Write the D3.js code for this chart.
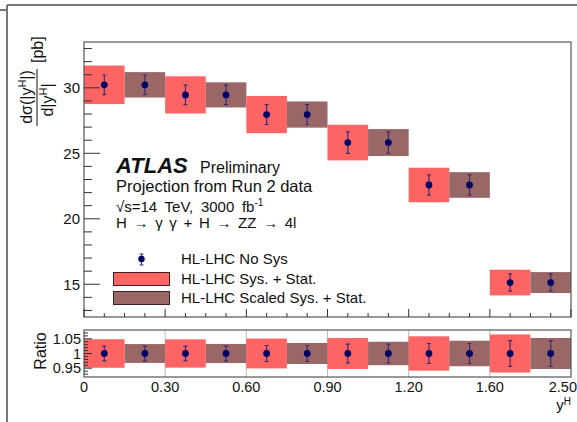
<!DOCTYPE html>
<html lang="en">
<head>
    <meta charset="UTF-8">
    <title>ATLAS |yH| projection</title>
    <script src="https://d3js.org/d3.v7.min.js"></script>
    <style>
        body { margin: 0; background: #fff; }
        svg { display: block; font-family: "Liberation Sans", Arial, Helvetica, sans-serif; }
    </style>
</head>
<body>
<div id="container"></div>
<script>
    // data
    const binLabels = ['0', '0.30', '0.60', '0.90', '1.20', '1.60', '2.50'];
    const xsec = [30.23, 29.46, 27.96, 25.82, 22.58, 15.13];
    const statErr = [0.75, 0.74, 0.76, 0.82, 0.77, 0.66];
    const sysErr = [1.47, 1.42, 1.42, 1.36, 1.32, 0.98];
    const scaledSysErr = [0.97, 0.96, 1.0, 1.03, 0.98, 0.8];
    const yTicks = [15, 20, 25, 30];
    const ratioTicks = [0.95, 1, 1.05];
    const ratioLabels = ['0.95', '1', '1.05'];
    const legendLabels = ['HL-LHC No Sys', 'HL-LHC Sys. + Stat.', 'HL-LHC Scaled Sys. + Stat.'];

    const W = 577, H = 422;
    const left = 84, right = 571;
    const red = '#ff6464', brown = '#9a6767', navy = '#000066', errCol = '#3a2e6e';

    const svg = d3.select('#container').append('svg')
        .attr('width', W).attr('height', H);

    // outer canvas edges
    svg.append('path')
        .attr('d', 'M7,5 H577 M7,5 V422 M0,10 H7')
        .attr('stroke', '#777').attr('stroke-width', 2).attr('fill', 'none');

    const x = d3.scaleLinear().domain([0, binLabels.length - 1]).range([left, right]);
    const y = d3.scaleLinear().domain([12.5, 33.5]).range([317, 42]);
    const yr = d3.scaleLinear().domain([0.92, 1.08]).range([377, 330]);

    const bins = xsec.map((v, i) => ({i: i, v: v, stat: statErr[i], sys: sysErr[i], ssys: scaledSysErr[i]}));

    // ---------- top panel ----------
    const mainPanel = svg.append('g');

    mainPanel.selectAll(null)
        .data(bins).enter().append('rect')
        .attr('x', d => x(d.i))
        .attr('width', d => x(d.i + 0.5) - x(d.i))
        .attr('y', d => y(d.v + d.sys))
        .attr('height', d => y(d.v - d.sys) - y(d.v + d.sys))
        .attr('fill', red);

    mainPanel.selectAll(null)
        .data(bins).enter().append('rect')
        .attr('x', d => x(d.i + 0.5))
        .attr('width', d => x(d.i + 1) - x(d.i + 0.5))
        .attr('y', d => y(d.v + d.ssys))
        .attr('height', d => y(d.v - d.ssys) - y(d.v + d.ssys))
        .attr('fill', brown);

    function drawPoints(g, data, sy, val, err) {
        const pts = [];
        data.forEach(d => { pts.push({xc: d.i + 0.25, d: d}); pts.push({xc: d.i + 0.75, d: d}); });
        g.selectAll(null).data(pts).enter().append('path')
            .attr('d', p => {
                const cx = x(p.xc), y1 = sy(val(p.d) + err(p.d)), y2 = sy(val(p.d) - err(p.d));
                return `M${cx},${y1} V${y2} M${cx - 2},${y1} H${cx + 2} M${cx - 2},${y2} H${cx + 2}`;
            })
            .attr('stroke', errCol).attr('stroke-width', 1.2).attr('fill', 'none');
        g.selectAll(null).data(pts).enter().append('circle')
            .attr('cx', p => x(p.xc))
            .attr('cy', p => sy(val(p.d)))
            .attr('r', 3.4)
            .attr('fill', navy);
    }
    drawPoints(mainPanel, bins, y, d => d.v, d => d.stat);

    // frame
    mainPanel.append('rect')
        .attr('x', left).attr('y', 42).attr('width', right - left).attr('height', 275)
        .attr('fill', 'none').attr('stroke', '#555').attr('stroke-width', 1.2);

    // y ticks
    const yMinor = d3.range(13, 34, 1);
    mainPanel.selectAll(null).data(yMinor).enter().append('line')
        .attr('x1', left).attr('x2', d => left + (d % 5 === 0 ? 16 : 8))
        .attr('y1', d => y(d)).attr('y2', d => y(d))
        .attr('stroke', '#333').attr('stroke-width', 1);
    mainPanel.selectAll(null).data(yTicks).enter().append('text')
        .attr('x', 80).attr('y', d => y(d)).attr('dy', '0.36em')
        .attr('text-anchor', 'end').attr('font-size', 15).attr('fill', '#111')
        .text(d => d);

    // x ticks of top panel
    const xMinor = d3.range(0, binLabels.length - 1 + 0.01, 0.25);
    mainPanel.selectAll(null).data(xMinor).enter().append('line')
        .attr('x1', d => x(d)).attr('x2', d => x(d))
        .attr('y1', 317).attr('y2', d => 317 - (d % 1 === 0 ? 8 : 4))
        .attr('stroke', '#333').attr('stroke-width', 1);

    // y title (rotated fraction)
    const yt = svg.append('g').attr('transform', 'translate(37,97) rotate(-90)')
        .attr('font-size', 16).attr('fill', '#111');
    const num = yt.append('text').attr('x', 0).attr('y', -5).attr('text-anchor', 'middle');
    num.append('tspan').text('dσ(|y');
    num.append('tspan').attr('font-size', 11).attr('baseline-shift', '55%').text('H');
    num.append('tspan').text('|)');
    const den = yt.append('text').attr('x', -3).attr('y', 16).attr('text-anchor', 'middle');
    den.append('tspan').text('d|y');
    den.append('tspan').attr('font-size', 11).attr('baseline-shift', '55%').text('H');
    den.append('tspan').text('|');
    yt.append('line').attr('x1', -29).attr('x2', 28).attr('y1', 0).attr('y2', 0)
        .attr('stroke', '#111').attr('stroke-width', 1);
    yt.append('text').attr('x', 34).attr('y', 6).attr('text-anchor', 'start').text('[pb]');

    // ATLAS labels
    const lab = svg.append('g').attr('fill', '#111');
    lab.append('text').attr('x', 116).attr('y', 173)
        .attr('font-size', 22).attr('font-weight', 'bold').attr('font-style', 'italic').text('ATLAS');
    lab.append('text').attr('x', 200).attr('y', 173).attr('font-size', 16).text('Preliminary');
    lab.append('text').attr('x', 116).attr('y', 192).attr('font-size', 16.5).text('Projection from Run 2 data');
    const s = lab.append('text').attr('x', 116).attr('y', 212).attr('font-size', 15)
        .attr('word-spacing', 3.5);
    s.append('tspan').text('√s=14 TeV, 3000 fb');
    s.append('tspan').attr('font-size', 10).attr('baseline-shift', '60%').text('-1');
    lab.append('text').attr('x', 116).attr('y', 228).attr('font-size', 15)
        .attr('word-spacing', 2.5)
        .text('H \u2192 \u03b3 \u03b3 + H \u2192 ZZ \u2192 4l');

    // legend
    const leg = svg.append('g');
    const legY = [259, 279, 298];
    leg.append('path')
        .attr('d', `M141.5,${legY[0] - 5} V${legY[0] + 6} M139.5,${legY[0] - 5} H143.5 M139.5,${legY[0] + 6} H143.5`)
        .attr('stroke', errCol).attr('stroke-width', 1.2);
    leg.append('circle').attr('cx', 141.5).attr('cy', legY[0]).attr('r', 3.2).attr('fill', navy);
    [red, brown].forEach((c, k) => {
        leg.append('rect').attr('x', 113.5).attr('y', legY[k + 1] - 6.5).attr('width', 56).attr('height', 13)
            .attr('fill', c).attr('stroke', '#3a2020').attr('stroke-width', 1);
    });
    leg.selectAll(null).data(legendLabels).enter().append('text')
        .attr('x', 181).attr('y', (d, i) => legY[i]).attr('dy', '0.36em')
        .attr('font-size', 15).attr('fill', '#111').text(d => d);

    // ---------- ratio panel ----------
    const rp = svg.append('g');

    rp.selectAll(null).data(d3.range(1, binLabels.length - 1)).enter().append('line')
        .attr('x1', d => x(d)).attr('x2', d => x(d))
        .attr('y1', 330).attr('y2', 377)
        .attr('stroke', '#bbb').attr('stroke-width', 1);

    rp.selectAll(null).data(bins).enter().append('rect')
        .attr('x', d => x(d.i))
        .attr('width', d => x(d.i + 0.5) - x(d.i))
        .attr('y', d => yr(1 + d.sys / d.v))
        .attr('height', d => yr(1 - d.sys / d.v) - yr(1 + d.sys / d.v))
        .attr('fill', red);
    rp.selectAll(null).data(bins).enter().append('rect')
        .attr('x', d => x(d.i + 0.5))
        .attr('width', d => x(d.i + 1) - x(d.i + 0.5))
        .attr('y', d => yr(1 + d.ssys / d.v))
        .attr('height', d => yr(1 - d.ssys / d.v) - yr(1 + d.ssys / d.v))
        .attr('fill', brown);

    drawPoints(rp, bins, yr, d => 1, d => d.stat / d.v);

    rp.append('rect')
        .attr('x', left).attr('y', 330).attr('width', right - left).attr('height', 47)
        .attr('fill', 'none').attr('stroke', '#555').attr('stroke-width', 1.2);

    const rMinor = d3.range(93, 108, 1).map(v => v / 100);
    rp.selectAll(null).data(rMinor).enter().append('line')
        .attr('x1', left).attr('x2', d => left + (Math.round(d * 100) % 5 === 0 ? 8 : 4))
        .attr('y1', d => yr(d)).attr('y2', d => yr(d))
        .attr('stroke', '#333').attr('stroke-width', 1);

    rp.append('text')
        .attr('transform', 'translate(46,351) rotate(-90)')
        .attr('text-anchor', 'middle').attr('font-size', 16).attr('fill', '#111')
        .text('Ratio');
    rp.selectAll(null).data(ratioTicks).enter().append('text')
        .attr('x', 81).attr('y', d => yr(d)).attr('dy', '0.36em')
        .attr('text-anchor', 'end').attr('font-size', 14.5).attr('fill', '#111')
        .text((d, i) => ratioLabels[i]);

    // x labels
    svg.selectAll(null).data(binLabels).enter().append('text')
        .attr('x', (d, i) => x(i)).attr('y', 392)
        .attr('text-anchor', (d, i) => i === 0 ? 'start' : (i === binLabels.length - 1 ? 'end' : 'middle'))
        .attr('dx', (d, i) => i === 0 ? -4 : (i === binLabels.length - 1 ? 6 : 0))
        .attr('font-size', 14.5).attr('fill', '#111')
        .text(d => d);
    const xt = svg.append('text').attr('x', 571).attr('y', 410).attr('text-anchor', 'end')
        .attr('font-size', 15).attr('fill', '#111');
    xt.append('tspan').text('y');
    xt.append('tspan').attr('font-size', 10).attr('baseline-shift', '55%').text('H');
</script>
</body>
</html>
